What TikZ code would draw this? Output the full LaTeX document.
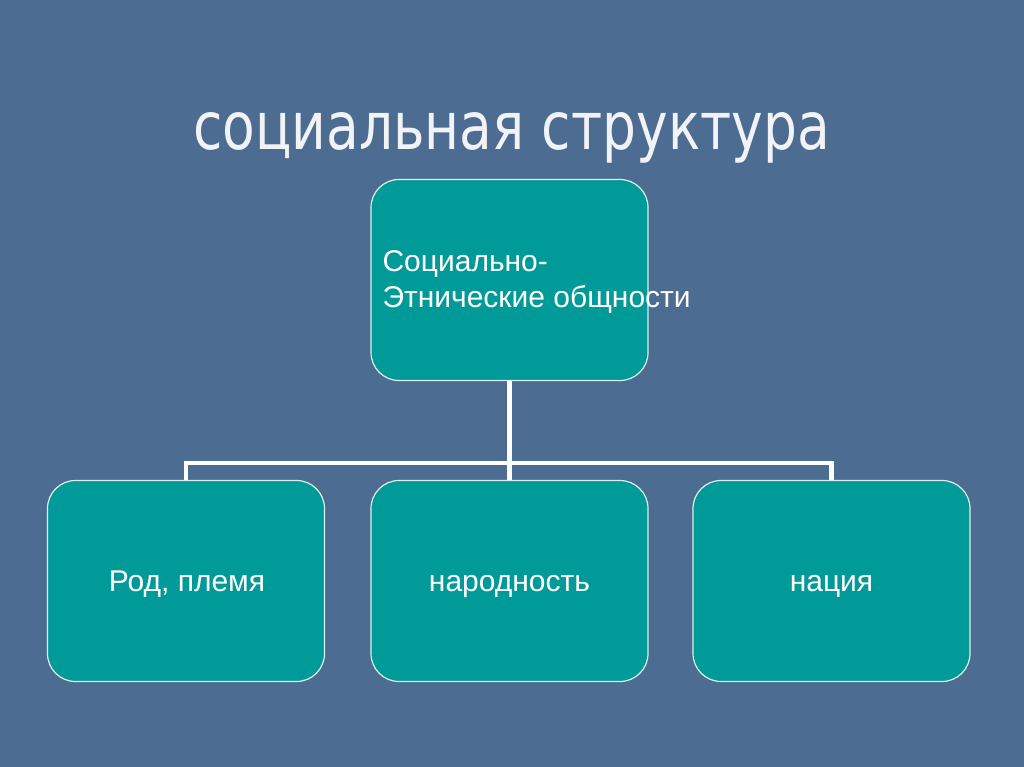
\documentclass[tikz,border=0pt]{standalone}
\usepackage{fontspec}
\setmainfont{Liberation Sans}
\newfontfamily\titlefont[FakeStretch=0.81]{DejaVu Sans}
\definecolor{slate}{HTML}{4D6C92}
\definecolor{tealbox}{HTML}{009A98}

\begin{document}
\begin{tikzpicture}[x=1pt,y=-1pt,
  box/.style={draw=white!85!tealbox, line width=1.2pt, fill=tealbox,
    rounded corners=28pt, minimum width=277pt, minimum height=201pt,
    inner sep=0pt},
  lbl/.style={text=white, font=\fontsize{30}{36}\selectfont},
  conn/.style={draw=white, line width=4.5pt}]
\fill[slate] (0,0) rectangle (1024,767);
\node[text=white!92!slate, anchor=base, font=\titlefont\fontsize{66}{72}\selectfont] (title) at (511.5,150) {социальная структура};
% top box
\node[box] (ethno) at (509.5,280) {};
\node[lbl, anchor=west, align=left] (ethnotxt) at (379,282) {Социально-\\Этнические общности};
% bottom row
\node[box] (rod) at (186,581) {};
\node[box] (narod) at (509.5,581) {};
\node[box] (nation) at (831.5,581) {};
\node[lbl, anchor=base] (rodtxt) at (187,591) {Род, племя};
\node[lbl, anchor=base] (narodtxt) at (509.5,591) {народность};
\node[lbl, anchor=base] (nationtxt) at (831.5,591) {нация};
% connectors
\coordinate (hub) at (509.5,463);
\draw[conn] (ethno.south) -- (narod.north);
\draw[conn] (rod.north) |- (hub) -| (nation.north);
\end{tikzpicture}
\end{document}
